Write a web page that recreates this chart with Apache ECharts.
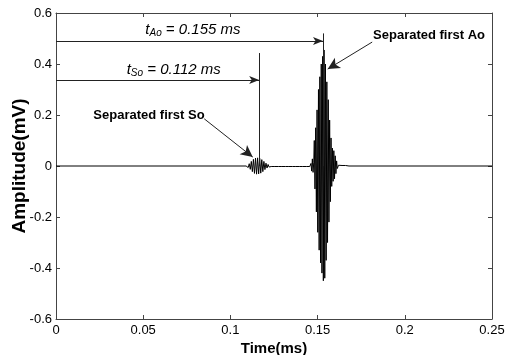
<!DOCTYPE html>
<html>
<head>
<meta charset="utf-8">
<script src="https://cdn.jsdelivr.net/npm/echarts@6/dist/echarts.min.js"></script>
<style>
    html, body { margin: 0; padding: 0; background: #fff; }
    #main { width: 511px; height: 355px; }
</style>
</head>
<body>
<div id="main"></div>
<script>
    // signal samples (time in ms, amplitude in mV)
    var timeMs = [
        0, 0.1090,
        // first So burst
        0.1096, 0.1102, 0.1108, 0.1114, 0.1120, 0.1126, 0.1132, 0.1138, 0.1144, 0.1150,
        0.1156, 0.1162, 0.1168, 0.1174, 0.1180, 0.1186, 0.1192, 0.1198, 0.1204, 0.1210,
        0.1216, 0.1222, 0.1228, 0.1234,
        // small ripple between bursts
        0.1245, 0.1255, 0.1265, 0.1275, 0.1285, 0.1295, 0.1305, 0.1315, 0.1325, 0.1335,
        0.1345, 0.1355, 0.1365, 0.1375, 0.1385, 0.1395, 0.1405, 0.1415, 0.1425, 0.1435,
        0.1445, 0.1455,
        // blip before Ao
        0.1462, 0.1466, 0.1470, 0.1474, 0.1478,
        // first Ao burst
        0.1481, 0.1485, 0.1489, 0.1493, 0.1497, 0.1501, 0.1505, 0.1509, 0.1513, 0.1517,
        0.1521, 0.1525, 0.1529, 0.1533, 0.1537, 0.1541, 0.1545, 0.1549, 0.1553, 0.1557,
        0.1561, 0.1565, 0.1569, 0.1573, 0.1577, 0.1581, 0.1585, 0.1589, 0.1593, 0.1597,
        0.1601, 0.1605, 0.1609, 0.1613,
        // tail
        0.1620, 0.1630, 0.1640, 0.1650, 0.1660, 0.1670, 0.1680, 0.25
    ];
    var amplitudeMv = [
        0, 0,
        0.004, -0.006, 0.009, -0.013, 0.018, -0.022, 0.026, -0.029, 0.031, -0.032,
        0.032, -0.031, 0.030, -0.028, 0.025, -0.022, 0.018, -0.014, 0.011, -0.008,
        0.006, -0.004, 0.003, -0.002,
        0.002, -0.002, 0.002, -0.002, 0.002, -0.002, 0.002, -0.002, 0.002, -0.002,
        0.002, -0.002, 0.002, -0.002, 0.002, -0.002, 0.002, -0.002, 0.002, -0.002,
        0.002, -0.002,
        0.010, -0.020, 0.028, -0.025, 0.015,
        0.10, -0.09, 0.15, -0.18, 0.22, -0.26, 0.30, -0.33, 0.35, -0.38,
        0.40, -0.42, 0.43, -0.45, 0.455, -0.44, 0.40, -0.37, 0.33, -0.30,
        0.26, -0.22, 0.18, -0.14, 0.11, -0.08, 0.07, -0.06, 0.06, -0.05,
        0.04, -0.03, 0.02, -0.01,
        0.003, -0.003, 0.002, -0.002, 0.002, -0.001, 0, 0
    ];

    // arrival times marked on the plot
    var tSo = 0.1165, tAo = 0.1531;
    var xTicks = [0, 0.05, 0.1, 0.15, 0.2, 0.25];

    var signal = timeMs.map(function (t, i) { return [t, amplitudeMv[i]]; });

    var myChart = echarts.init(document.getElementById('main'));
    var font = 'Liberation Sans, Arial, sans-serif';
    var axisColor = '#444';

    var subRich = {
        t: { fontFamily: font, fontSize: 15, fontStyle: 'italic', color: '#000' },
        s: { fontFamily: font, fontSize: 10, fontStyle: 'italic', color: '#000', verticalAlign: 'bottom', padding: [6, 0, 0, 0] }
    };

    myChart.setOption({
        animation: false,
        backgroundColor: '#fff',
        grid: { left: 56, right: 19, top: 13, bottom: 36, containLabel: false, outerBoundsMode: 'none' },
        xAxis: [
            {
                type: 'value', position: 'bottom',
                min: xTicks[0], max: xTicks[xTicks.length - 1], interval: 0.05,
                name: 'Time(ms)', nameLocation: 'middle', nameGap: 22, nameMoveOverlap: false,
                nameTextStyle: { fontFamily: font, fontSize: 15, fontWeight: 'bold', color: '#000' },
                axisLine: { onZero: false, lineStyle: { color: axisColor, width: 1 } },
                axisTick: { inside: true, length: 4, lineStyle: { color: axisColor } },
                axisLabel: { fontFamily: font, fontSize: 13, color: '#000', margin: 5 },
                splitLine: { show: false }
            },
            {
                type: 'value', position: 'top',
                min: 0, max: 0.25, interval: 0.05,
                axisLine: { onZero: false, lineStyle: { color: axisColor, width: 1 } },
                axisTick: { inside: true, length: 4, lineStyle: { color: axisColor } },
                axisLabel: { show: false },
                splitLine: { show: false }
            }
        ],
        yAxis: [
            {
                type: 'value', position: 'left',
                min: -0.6, max: 0.6, interval: 0.2,
                name: 'Amplitude(mV)', nameLocation: 'middle', nameGap: 27, nameMoveOverlap: false,
                nameTextStyle: { fontFamily: font, fontSize: 19, fontWeight: 'bold', color: '#000' },
                axisLine: { show: true, onZero: false, lineStyle: { color: axisColor, width: 1 } },
                axisTick: { show: true, inside: true, length: 4, lineStyle: { color: axisColor } },
                axisLabel: { fontFamily: font, fontSize: 13, color: '#000', margin: 4 },
                splitLine: { show: false }
            },
            {
                type: 'value', position: 'right',
                min: -0.6, max: 0.6, interval: 0.2,
                axisLine: { show: true, onZero: false, lineStyle: { color: axisColor, width: 1 } },
                axisTick: { show: true, inside: true, length: 4, lineStyle: { color: axisColor } },
                axisLabel: { show: false },
                splitLine: { show: false }
            }
        ],
        series: [
            {
                type: 'line',
                data: signal,
                showSymbol: false,
                lineStyle: { color: '#000', width: 1 },
                z: 3,
                markLine: {
                    silent: true,
                    animation: false,
                    label: { show: false },
                    lineStyle: { color: '#222', width: 1, type: 'solid' },
                    data: [
                        [{ coord: [0, 0.49], symbol: 'none' },
                         { coord: [tAo, 0.49], symbol: 'arrow', symbolSize: [6, 10] }],
                        [{ coord: [tAo, 0], symbol: 'none' },
                         { coord: [tAo, 0.52], symbol: 'none' }],
                        [{ coord: [0, 0.337], symbol: 'none' },
                         { coord: [tSo, 0.337], symbol: 'arrow', symbolSize: [6, 10] }],
                        [{ coord: [tSo, 0], symbol: 'none' },
                         { coord: [tSo, 0.443], symbol: 'none' }],
                        [{ coord: [0.1813, 0.486], symbol: 'none' },
                         { coord: [0.1558, 0.38], symbol: 'arrow', symbolSize: [9, 12] }],
                        [{ coord: [0.0850, 0.185], symbol: 'none' },
                         { coord: [0.1128, 0.035], symbol: 'arrow', symbolSize: [9, 12] }]
                    ]
                },
                markPoint: {
                    silent: true,
                    animation: false,
                    symbol: 'circle',
                    symbolSize: 0,
                    label: {
                        show: true, position: 'inside', color: '#000', fontFamily: font
                    },
                    data: [
                        {
                            coord: [0.0785, 0.533],
                            label: { formatter: '{t|t}{s|Ao}{t| = 0.155 ms}', rich: subRich }
                        },
                        {
                            coord: [0.0675, 0.376],
                            label: { formatter: '{t|t}{s|So}{t| = 0.112 ms}', rich: subRich }
                        },
                        {
                            coord: [0.2139, 0.514],
                            label: { formatter: 'Separated first Ao', fontSize: 13, fontWeight: 'bold' }
                        },
                        {
                            coord: [0.0533, 0.2],
                            label: { formatter: 'Separated first So', fontSize: 13, fontWeight: 'bold' }
                        }
                    ]
                }
            }
        ]
    });
</script>
</body>
</html>
